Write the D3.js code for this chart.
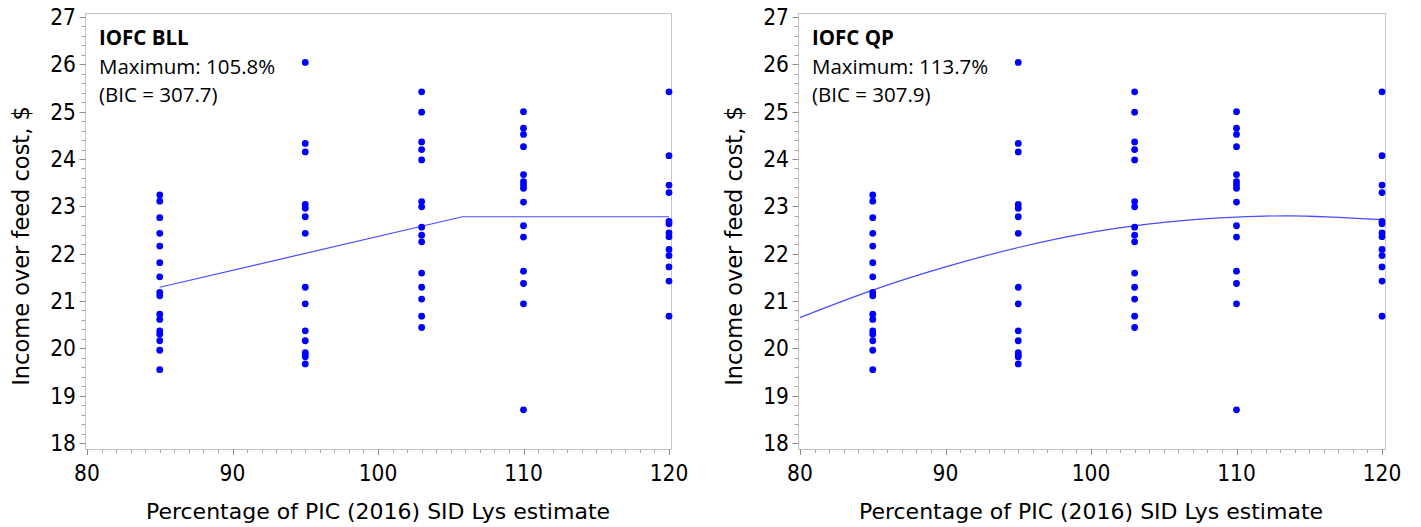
<!DOCTYPE html>
<html>
<head>
<meta charset="utf-8">
<script src="https://cdn.jsdelivr.net/npm/d3@7"></script>
<style>
  body { margin: 0; background: #fff; }
  svg { display: block; }
  .tick-label { font-family: "DejaVu Sans Condensed", "DejaVu Sans", sans-serif; font-stretch: condensed; fill: #000; }
  .axis-title { font-family: "DejaVu Sans", sans-serif; fill: #000; }
  .inset { font-family: "Open Sans", sans-serif; fill: #000; }
</style>
</head>
<body>
<svg id="chart" width="1421" height="527"></svg>
<script>
// Lysine levels (% of PIC 2016 SID Lys estimate) and observed IOFC ($)
const lys85  = [23.24, 23.11, 22.76, 22.43, 22.16, 21.81, 21.51, 21.18, 21.11, 20.72, 20.61, 20.37, 20.30, 20.16, 19.96, 19.55];
const lys95  = [26.04, 24.33, 24.15, 23.04, 22.96, 22.78, 22.43, 21.29, 20.94, 20.37, 20.16, 19.91, 19.86, 19.82, 19.67];
const lys103 = [25.42, 24.99, 24.36, 24.20, 23.98, 23.10, 22.99, 22.56, 22.39, 22.25, 21.59, 21.29, 21.04, 20.68, 20.44];
const lys110 = [25.00, 24.65, 24.52, 24.26, 23.67, 23.52, 23.45, 23.38, 23.09, 22.59, 22.35, 21.63, 21.37, 20.94, 18.70];
const lys120 = [25.42, 24.07, 23.45, 23.29, 22.68, 22.63, 22.44, 22.36, 22.09, 21.96, 21.72, 21.42, 20.68];

const levels = [85, 95, 103, 110, 120];
const observed = [lys85, lys95, lys103, lys110, lys120];

// fitted lines
const bllX = [85, 105.8, 120];
const bllY = [21.29, 22.78, 22.78];
const qpX = [80, 85, 90, 95, 100, 105, 110, 113.7, 120];
const qpY = [20.65, 21.23, 21.72, 22.13, 22.45, 22.66, 22.77, 22.80, 22.72];

const xTicks = [80, 90, 100, 110, 120];
const yTicks = [18, 19, 20, 21, 22, 23, 24, 25, 26, 27];

const panels = [
  { title: 'IOFC BLL', max: 'Maximum: 105.8%', bic: '(BIC = 307.7)', lx: bllX, ly: bllY, x0: 87, x1: 669, fl: 85, fr: 671, curve: d3.curveLinear },
  { title: 'IOFC QP',  max: 'Maximum: 113.7%', bic: '(BIC = 307.9)', lx: qpX,  ly: qpY,  x0: 800, x1: 1382, fl: 798, fr: 1385, curve: d3.curveCatmullRom }
];

const svg = d3.select('#chart');
const y = d3.scaleLinear().domain([18, 27]).range([443, 17]);
const frameTop = 13, frameBottom = 449;

const points = levels.flatMap((lv, i) => observed[i].map(v => ({ x: lv, y: v })));

panels.forEach(p => {
  const g = svg.append('g');
  const x = d3.scaleLinear().domain([80, 120]).range([p.x0, p.x1]);

  // frame
  g.append('rect')
    .attr('x', p.fl + 0.5).attr('y', frameTop + 0.5)
    .attr('width', p.fr - p.fl).attr('height', frameBottom - frameTop)
    .attr('fill', 'none').attr('stroke', '#c4c4c4').attr('stroke-width', 1);

  // y ticks
  const yMinor = d3.range(18, 27.001, 0.2);
  g.selectAll('.ymin').data(yMinor).join('line')
    .attr('x1', p.fl + 0.5).attr('x2', p.fl - 3.5)
    .attr('y1', d => Math.round(y(d)) + 0.5).attr('y2', d => Math.round(y(d)) + 0.5)
    .attr('stroke', '#a8a8a8');
  g.selectAll('.ymaj').data(yTicks).join('line')
    .attr('x1', p.fl + 0.5).attr('x2', p.fl - 5.5)
    .attr('y1', d => Math.round(y(d)) + 0.5).attr('y2', d => Math.round(y(d)) + 0.5)
    .attr('stroke', '#8c8c8c');
  g.selectAll('.ylab').data(yTicks).join('text')
    .attr('class', 'tick-label')
    .attr('x', p.fl - 9).attr('y', d => y(d) + 8)
    .attr('text-anchor', 'end').attr('font-size', 22.5)
    .text(d => d);

  // x ticks
  const xMinor = d3.range(80, 120.001, 1);
  g.selectAll('.xmin').data(xMinor).join('line')
    .attr('x1', d => Math.round(x(d)) + 0.5).attr('x2', d => Math.round(x(d)) + 0.5)
    .attr('y1', frameBottom + 0.5).attr('y2', frameBottom + 4)
    .attr('stroke', '#a8a8a8');
  g.selectAll('.xmaj').data(xTicks).join('line')
    .attr('x1', d => Math.round(x(d)) + 0.5).attr('x2', d => Math.round(x(d)) + 0.5)
    .attr('y1', frameBottom + 0.5).attr('y2', frameBottom + 6)
    .attr('stroke', '#8c8c8c');
  g.selectAll('.xlab').data(xTicks).join('text')
    .attr('class', 'tick-label')
    .attr('x', d => x(d)).attr('y', 481)
    .attr('text-anchor', 'middle').attr('font-size', 22.5)
    .text(d => d);

  // axis titles
  g.append('text').attr('class', 'axis-title')
    .attr('x', (p.x0 + p.x1) / 2).attr('y', 519)
    .attr('text-anchor', 'middle').attr('font-size', 22)
    .text('Percentage of PIC (2016) SID Lys estimate');
  g.append('text').attr('class', 'axis-title')
    .attr('transform', `translate(${p.fl - 56},${(frameTop + frameBottom) / 2 + 15}) rotate(-90)`)
    .attr('text-anchor', 'middle').attr('font-size', 22.5)
    .text('Income over feed cost, $');

  // fitted line
  const line = d3.line().x(d => x(d[0])).y(d => y(d[1])).curve(p.curve);
  g.append('path')
    .attr('d', line(d3.zip(p.lx, p.ly)))
    .attr('fill', 'none').attr('stroke', '#4b4bff').attr('stroke-width', 1.2);

  // observations
  g.selectAll('.dot').data(points).join('circle')
    .attr('cx', d => x(d.x)).attr('cy', d => y(d.y))
    .attr('r', 3.4).attr('fill', '#0000ff');

  // inset text
  g.append('text').attr('class', 'inset')
    .attr('x', p.fl + 14).attr('y', 45).attr('font-size', 20.5).attr('font-weight', 'bold')
    .text(p.title);
  g.append('text').attr('class', 'inset')
    .attr('x', p.fl + 14).attr('y', 74).attr('font-size', 20.5)
    .text(p.max);
  g.append('text').attr('class', 'inset')
    .attr('x', p.fl + 14).attr('y', 102).attr('font-size', 20.5)
    .text(p.bic);
});
</script>
</body>
</html>
